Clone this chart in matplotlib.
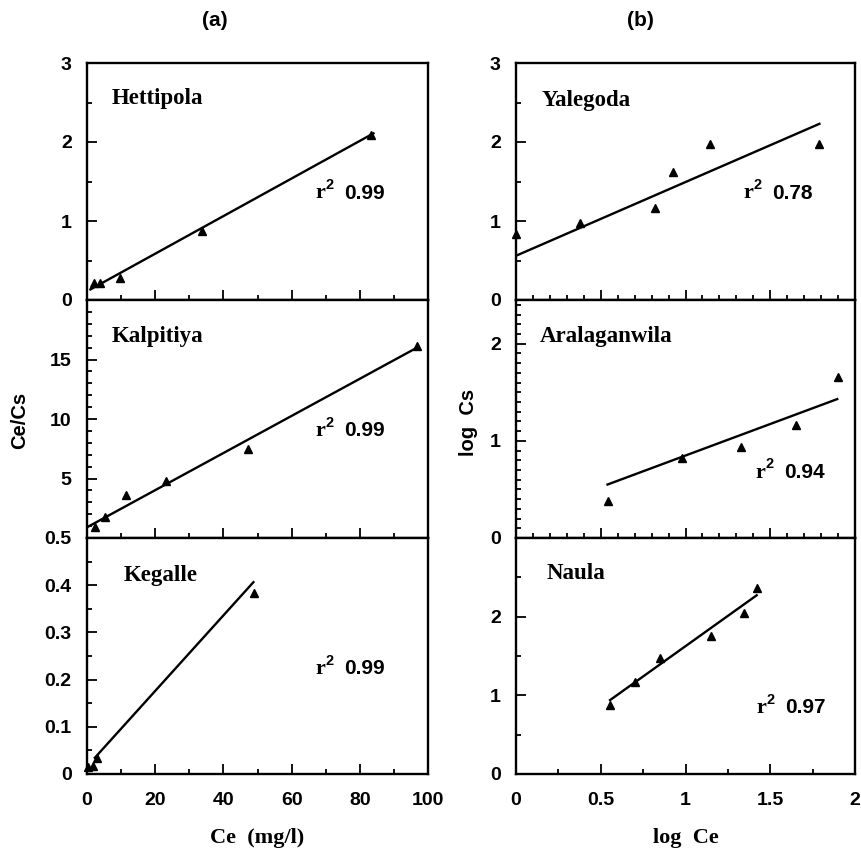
import numpy as np
import matplotlib.pyplot as plt
from matplotlib.ticker import MultipleLocator

# ---- data ----
# (a) Ce/Cs vs Ce (mg/l)
hett_x = [2.1, 3.8, 9.7, 33.6, 83.2]
hett_y = [0.21, 0.22, 0.28, 0.87, 2.09]
kalp_x = [2.3, 5.3, 11.4, 23.1, 47.3, 96.7]
kalp_y = [0.9, 1.8, 3.6, 4.8, 7.5, 16.1]
kega_x = [0.3, 1.9, 2.8, 49.0]
kega_y = [0.015, 0.016, 0.034, 0.384]

# (b) log Cs vs log Ce
yale_x = [0.0, 0.378, 0.82, 0.928, 1.145, 1.79]
yale_y = [0.84, 0.98, 1.17, 1.62, 1.97, 1.97]
aral_x = [0.54, 0.978, 1.33, 1.65, 1.90]
aral_y = [0.38, 0.82, 0.94, 1.165, 1.66]
naul_x = [0.555, 0.702, 0.85, 1.15, 1.345, 1.42]
naul_y = [0.877, 1.167, 1.48, 1.76, 2.05, 2.37]

# regression lines: (intercept, slope, x start, x end)
hett_fit = (0.11, 0.0238, 1.0, 84.0)
kalp_fit = (0.9, 0.156, 0.0, 97.0)
kega_fit = (0.016, 0.008, 2.3, 48.8)
yale_fit = (0.56, 0.933, 0.0, 1.79)
aral_fit = (0.20, 0.649, 0.54, 1.895)
naul_fit = (0.085, 1.54, 0.555, 1.42)

r2_values = ['0.99', '0.99', '0.99', '0.78', '0.94', '0.97']
names = ['Hettipola', 'Kalpitiya', 'Kegalle', 'Yalegoda', 'Aralaganwila', 'Naula']

# tick labels per panel
hett_yticks = [0, 1, 2, 3]
hett_ylabels = ['0', '1', '2', '3']
kalp_yticks = [0, 5, 10, 15, 20]
kalp_ylabels = ['', '5', '10', '15', '']
kega_yticks = [0, 0.1, 0.2, 0.3, 0.4, 0.5]
kega_ylabels = ['0', '0.1', '0.2', '0.3', '0.4', '0.5']
yale_yticks = [0, 1, 2, 3]
yale_ylabels = ['0', '1', '2', '3']
aral_yticks = [0, 1, 2]
aral_ylabels = ['0', '1', '2']
naul_yticks = [0, 1, 2, 3]
naul_ylabels = ['0', '1', '2', '']
a_xticks = [0, 20, 40, 60, 80, 100]
a_xlabels = ['0', '20', '40', '60', '80', '100']
b_xticks = [0, 0.5, 1, 1.5, 2]
b_xlabels = ['0', '0.5', '1', '1.5', '2']

sans = ['Liberation Sans', 'DejaVu Sans']
serif = ['Liberation Serif', 'DejaVu Serif']

fig = plt.figure(figsize=(8.61, 8.51), dpi=100)

W, H = 861, 851
def box(x0, x1, y0, y1):
    return [x0 / W, 1 - y1 / H, (x1 - x0) / W, (y1 - y0) / H]

rows = [(63, 300), (300, 538), (538, 774)]
cols = [(87, 428), (516, 855)]

panels = [
    (0, 0, hett_x, hett_y, hett_fit, (0, 3), hett_yticks, hett_ylabels, 0.5, (0.072, 0.85), (0.67, 0.45)),
    (1, 0, kalp_x, kalp_y, kalp_fit, (0, 20), kalp_yticks, kalp_ylabels, 1, (0.072, 0.845), (0.67, 0.45)),
    (2, 0, kega_x, kega_y, kega_fit, (0, 0.5), kega_yticks, kega_ylabels, 0.05, (0.108, 0.843), (0.67, 0.445)),
    (0, 1, yale_x, yale_y, yale_fit, (0, 3), yale_yticks, yale_ylabels, 0.5, (0.076, 0.84), (0.67, 0.45)),
    (1, 1, aral_x, aral_y, aral_fit, (0, 2.45), aral_yticks, aral_ylabels, 0.1, (0.071, 0.848), (0.705, 0.275)),
    (2, 1, naul_x, naul_y, naul_fit, (0, 3), naul_yticks, naul_ylabels, 0.5, (0.09, 0.85), (0.708, 0.28)),
]

for i, (r, c, xs, ys, fit, ylim, yt, yl, ymin, name_pos, r2_pos) in enumerate(panels):
    ax = fig.add_axes(box(cols[c][0], cols[c][1], rows[r][0], rows[r][1]))
    b0, b1, x0, x1 = fit
    fx = np.array([x0, x1])
    ax.plot(fx, b0 + b1 * fx, color='black', lw=1.7)
    ax.plot(xs, ys, '^', color='black', ms=6, clip_on=False)

    if c == 0:
        ax.set_xlim(0, 100)
        ax.set_xticks(a_xticks)
        ax.xaxis.set_minor_locator(MultipleLocator(10))
        ax.set_xticklabels(a_xlabels if r == 2 else [])
    else:
        ax.set_xlim(0, 2)
        ax.set_xticks(b_xticks)
        ax.xaxis.set_minor_locator(MultipleLocator(0.25 if r == 2 else 0.1))
        ax.set_xticklabels(b_xlabels if r == 2 else [])
    ax.set_ylim(*ylim)
    ax.set_yticks(yt)
    ax.set_yticklabels(yl)
    ax.yaxis.set_minor_locator(MultipleLocator(ymin))

    ax.tick_params(which='both', direction='in', top=False, right=False, width=1.3)
    ax.tick_params(which='major', length=7)
    ax.tick_params(which='minor', length=3.5)
    ax.tick_params(axis='y', pad=11)
    ax.tick_params(axis='x', pad=13)
    for lab in ax.get_xticklabels() + ax.get_yticklabels():
        lab.set_fontfamily(sans)
        lab.set_fontweight('bold')
        lab.set_fontsize(14)
    for sp in ax.spines.values():
        sp.set_linewidth(1.7)

    ax.text(name_pos[0], name_pos[1], names[i], transform=ax.transAxes,
            ha='left', va='center', fontsize=16.5, fontweight='bold', family=serif)
    # r² label: serif "r", small raised "2", then the value
    ax.text(r2_pos[0], r2_pos[1], 'r', transform=ax.transAxes,
            ha='left', va='center', fontsize=16, fontweight='bold', family=serif)
    ax.text(r2_pos[0] + 0.03, r2_pos[1] + 0.035, '2', transform=ax.transAxes,
            ha='left', va='center', fontsize=10.5, fontweight='bold', family=sans)
    ax.text(r2_pos[0] + 0.085, r2_pos[1], r2_values[i], transform=ax.transAxes,
            ha='left', va='center', fontsize=15, fontweight='bold', family=sans)

fig.text(215 / W, 1 - 20 / H, '(a)', ha='center', va='center', fontsize=15, fontweight='bold', family=sans)
fig.text(640 / W, 1 - 20 / H, '(b)', ha='center', va='center', fontsize=15, fontweight='bold', family=sans)
fig.text(20 / W, 1 - 420 / H, 'Ce/Cs', rotation=90, ha='center', va='center',
         fontsize=14.5, fontweight='bold', family=sans)
fig.text(468 / W, 1 - 422 / H, 'log  Cs', rotation=90, ha='center', va='center',
         fontsize=14.5, fontweight='bold', family=sans)
fig.text(257 / W, 1 - 838 / H, 'Ce  (mg/l)', ha='center', va='center',
         fontsize=16, fontweight='bold', family=serif)
fig.text(686 / W, 1 - 838 / H, 'log  Ce', ha='center', va='center',
         fontsize=16, fontweight='bold', family=serif)

fig.savefig('out.png', dpi=100)
